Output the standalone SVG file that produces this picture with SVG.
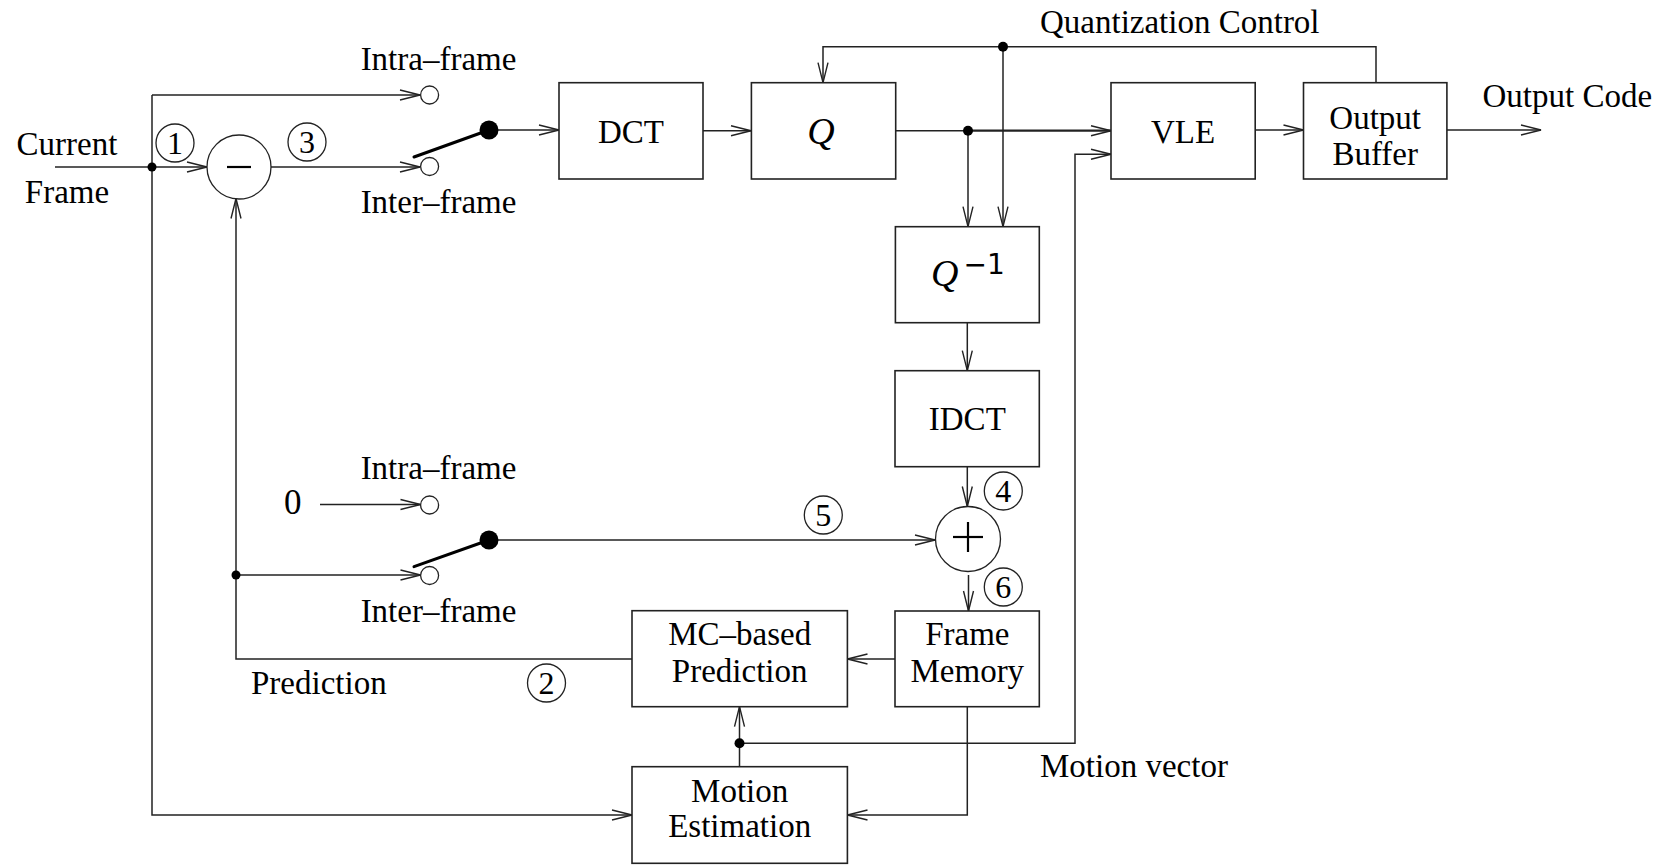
<svg xmlns="http://www.w3.org/2000/svg" width="1667" height="865" viewBox="0 0 1667 865">
<defs>
<marker id="arr" viewBox="-22 -7 24 14" refX="0" refY="0" markerWidth="24" markerHeight="14" markerUnits="userSpaceOnUse" orient="auto">
<path d="M-20,-5 L0,0 L-20,5" fill="none" stroke="#222" stroke-width="1.4"/>
</marker>
<style>
.box{fill:#fff;stroke:#222;stroke-width:1.6}
.ln{fill:none;stroke:#222;stroke-width:1.5}
.ar{fill:none;stroke:#222;stroke-width:1.5;marker-end:url(#arr)}
.t{font-family:"Liberation Serif","Times New Roman",serif;font-size:33px;fill:#000}
.c{text-anchor:middle}
.num{font-family:"Liberation Serif","Times New Roman",serif;font-size:32px;fill:#000;text-anchor:middle}
.nc{fill:none;stroke:#222;stroke-width:1.3}
.oc{fill:#fff;stroke:#222;stroke-width:1.3}
.dot{fill:#000}
.sw{stroke:#000;stroke-width:3;stroke-linecap:round}
.op{stroke:#000;stroke-width:2.2}
</style>
</defs>

<g id="connectors">
<path class="ar" d="M55,167 H207"/>
<path class="ln" d="M152,167 V95"/>
<path class="ar" d="M152,95 H420"/>
<path class="ar" d="M152,167 V815 H632"/>
<path class="ar" d="M271,167 H420"/>
<path class="ar" d="M489,130 H559"/>
<path class="ar" d="M703,130.7 H751"/>
<path class="ln" d="M896,130.7 H968"/>
<path class="ar" d="M968,130.7 H1111" style="stroke-width:2.3"/>
<path class="ar" d="M968,130.7 V226.7"/>
<path class="ar" d="M1376,82.7 V46.7 H823 V82.7"/>
<path class="ar" d="M1003,46.7 V226.7"/>
<path class="ar" d="M1255,130 H1303.5"/>
<path class="ar" d="M1447,130 H1541"/>
<path class="ar" d="M967.3,322.7 V370.7"/>
<path class="ar" d="M967.3,466.7 V506.5"/>
<path class="ar" d="M968.5,575 V611"/>
<path class="ar" d="M489,540 H935"/>
<path class="ar" d="M320,504.5 H420.5"/>
<path class="ar" d="M236,575 H420.5"/>
<path class="ar" d="M236,575 V198.5"/>
<path class="ln" d="M236,575 V659 H632"/>
<path class="ar" d="M895,659 H847.5"/>
<path class="ar" d="M967.3,706.7 V815 H847.5"/>
<path class="ar" d="M739.5,766.7 V706.7"/>
<path class="ar" d="M739.5,743.3 H1075 V154.3 H1111"/>
<circle class="dot" cx="152" cy="167" r="4.5"/>
<circle class="dot" cx="968" cy="130.7" r="5"/>
<circle class="dot" cx="1003" cy="46.7" r="5"/>
<circle class="dot" cx="236" cy="575" r="4.5"/>
<circle class="dot" cx="739.5" cy="743.3" r="5"/>
</g>

<g id="subtract">
<circle class="nc" cx="239" cy="167" r="32" style="fill:#fff"/>
<line class="op" x1="227" y1="167" x2="251" y2="167"/>
</g>

<g id="switch1">
<circle class="oc" cx="429.6" cy="95" r="9"/>
<circle class="oc" cx="429.6" cy="166.5" r="9"/>
<line class="sw" x1="414" y1="157" x2="489" y2="130"/>
<circle class="dot" cx="489" cy="130" r="9.5"/>
<text class="t c" x="438.5" y="70">Intra–frame</text>
<text class="t c" x="438.5" y="213">Inter–frame</text>
</g>

<g id="switch2">
<circle class="oc" cx="429.6" cy="505" r="9"/>
<circle class="oc" cx="429.6" cy="575.5" r="9"/>
<line class="sw" x1="414" y1="566.7" x2="489" y2="540"/>
<circle class="dot" cx="489" cy="540" r="9.5"/>
<text class="t c" x="438.5" y="479">Intra–frame</text>
<text class="t c" x="438.5" y="622">Inter–frame</text>
<text class="t" x="284" y="514" style="font-size:35px">0</text>
</g>

<g id="dct">
<rect class="box" x="559" y="82.7" width="144" height="96.3"/>
<text class="t c" x="631" y="143.3">DCT</text>
</g>

<g id="q">
<rect class="box" x="751.4" y="82.7" width="144.3" height="96.3"/>
<text class="t c" x="821" y="144" style="font-style:italic;font-size:38px">Q</text>
</g>

<g id="qinv">
<rect class="box" x="895.4" y="226.7" width="143.9" height="96"/>
<text class="t" x="931" y="286" style="font-size:38px"><tspan style="font-style:italic">Q</tspan><tspan dx="5" dy="-12" style="font-size:28px;font-family:'DejaVu Sans',sans-serif">−1</tspan></text>
</g>

<g id="idct">
<rect class="box" x="895" y="370.7" width="144.3" height="96"/>
<text class="t c" x="967.3" y="430">IDCT</text>
</g>

<g id="add">
<circle class="nc" cx="968" cy="539" r="32.5" style="fill:#fff"/>
<line class="op" x1="953" y1="537" x2="983" y2="537"/>
<line class="op" x1="968" y1="522" x2="968" y2="552"/>
</g>

<g id="framemem">
<rect class="box" x="895" y="611" width="144.3" height="95.7"/>
<text class="t c" x="967.3" y="645">Frame</text>
<text class="t c" x="967.3" y="681.7">Memory</text>
</g>

<g id="mcpred">
<rect class="box" x="632" y="610.7" width="215.4" height="96"/>
<text class="t c" x="739.7" y="645">MC–based</text>
<text class="t c" x="739.7" y="681.7">Prediction</text>
</g>

<g id="motionest">
<rect class="box" x="632" y="766.7" width="215.4" height="96.6"/>
<text class="t c" x="739.7" y="801.7">Motion</text>
<text class="t c" x="739.7" y="837.3">Estimation</text>
</g>

<g id="vle">
<rect class="box" x="1111" y="82.7" width="144.2" height="96.3"/>
<text class="t c" x="1183" y="143.3">VLE</text>
</g>

<g id="outbuf">
<rect class="box" x="1303.5" y="82.7" width="143.4" height="96.3"/>
<text class="t c" x="1375.2" y="129.3">Output</text>
<text class="t c" x="1375.2" y="165">Buffer</text>
</g>

<g id="labels">
<text class="t c" x="67" y="155">Current</text>
<text class="t c" x="67" y="203">Frame</text>
<text class="t" x="1040" y="33.3">Quantization Control</text>
<text class="t" x="1482.5" y="106.7">Output Code</text>
<text class="t" x="1040" y="777">Motion vector</text>
<text class="t" x="251" y="694">Prediction</text>
</g>

<g id="markers">
<circle class="nc" cx="175" cy="143" r="19"/>
<text class="num" x="175" y="154">1</text>
<circle class="nc" cx="307" cy="142" r="19"/>
<text class="num" x="307" y="153">3</text>
<circle class="nc" cx="546.5" cy="683" r="19"/>
<text class="num" x="546.5" y="694">2</text>
<circle class="nc" cx="1003.3" cy="491" r="19"/>
<text class="num" x="1003.3" y="502">4</text>
<circle class="nc" cx="823.3" cy="515" r="19"/>
<text class="num" x="823.3" y="526">5</text>
<circle class="nc" cx="1003.3" cy="587" r="19"/>
<text class="num" x="1003.3" y="598">6</text>
</g>
</svg>
